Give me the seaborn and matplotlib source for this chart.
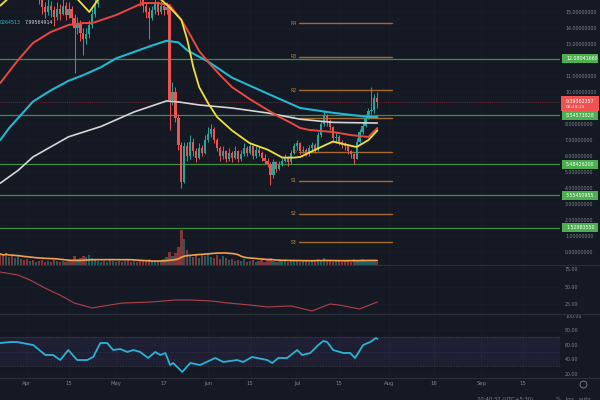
import numpy as np
import pandas as pd
import matplotlib
matplotlib.use('Agg')
import matplotlib.pyplot as plt
import matplotlib.transforms as mtransforms
from matplotlib.lines import Line2D
from matplotlib.patches import Rectangle
import seaborn as sns

# daily candles, day 0 = Mar 23
closes = [17.5, 17.0, 18.0, 17.2, 16.8, 17.5, 18.2, 17.6, 17.0, 16.6,
          16.9, 16.2, 16.5, 15.9, 15.3, 15.0, 15.4, 15.1, 14.7, 15.2,
          14.9, 15.4, 14.8, 15.2, 14.6, 14.0, 14.3, 13.7, 13.3, 13.6,
          14.2, 14.9, 15.5, 16.4, 17.0, 16.5, 17.4, 16.8, 17.6, 18.0,
          17.3, 16.9, 17.5, 16.8, 16.3, 16.7, 16.1, 15.8, 15.4, 15.0,
          14.6, 15.1, 15.5, 15.0, 15.4, 15.1, 15.3, 9.5, 10.0, 8.4,
          6.7, 4.4, 6.6, 6.0, 6.9, 6.3, 5.9, 6.5, 6.2, 7.0,
          7.4, 7.7, 7.0, 6.5, 6.0, 6.3, 5.8, 6.2, 5.9, 6.3,
          5.8, 6.1, 6.5, 6.2, 6.6, 6.0, 6.4, 6.2, 5.9, 5.7,
          5.5, 4.8, 5.6, 5.2, 5.5, 5.7, 5.9, 5.6, 6.2, 6.6,
          6.8, 6.3, 6.4, 6.1, 6.5, 6.7, 6.4, 7.3, 8.0, 8.5,
          8.2, 7.8, 7.1, 7.2, 6.9, 6.7, 6.6, 6.3, 6.1, 5.8,
          6.9, 7.5, 7.9, 8.4, 8.8, 8.9, 9.6, 9.39382357]
highs = [18.3, 18.0, 18.6, 18.3, 17.6, 17.9, 18.8, 18.5, 17.8, 17.3,
         17.4, 17.1, 16.9, 16.7, 16.1, 15.6, 15.8, 15.7, 15.4, 15.6,
         15.5, 15.8, 15.6, 15.6, 15.4, 14.9, 14.7, 14.5, 14.0, 14.0,
         14.5, 15.2, 16.0, 16.8, 17.5, 17.2, 17.8, 17.6, 18.0, 18.5,
         18.2, 17.5, 17.9, 17.6, 16.9, 17.0, 16.9, 16.4, 16.0, 15.6,
         15.3, 15.4, 15.9, 15.7, 15.7, 15.6, 15.6, 15.5, 10.6, 10.3,
         8.6, 6.9, 6.9, 6.9, 7.3, 7.1, 6.5, 6.8, 6.7, 7.3,
         7.8, 8.0, 7.8, 7.1, 6.6, 6.6, 6.4, 6.5, 6.3, 6.6,
         6.4, 6.4, 6.8, 6.6, 6.9, 6.7, 6.6, 6.6, 6.3, 6.1,
         5.9, 5.6, 5.8, 5.7, 5.7, 5.9, 6.1, 6.0, 6.4, 6.8,
         7.0, 6.9, 6.6, 6.5, 6.7, 6.9, 6.8, 7.5, 8.2, 8.8,
         8.6, 8.3, 7.9, 7.5, 7.3, 7.0, 6.9, 6.7, 6.4, 6.2,
         7.1, 7.7, 8.1, 8.6, 9.0, 10.3, 9.9, 10.0]
lows = [16.9, 16.6, 16.8, 16.9, 16.3, 16.6, 17.3, 17.2, 16.6, 16.2,
        16.3, 15.9, 15.9, 15.5, 14.9, 14.6, 14.8, 14.7, 14.1, 14.5,
        14.5, 14.8, 14.5, 14.6, 14.2, 11.2, 13.6, 13.2, 12.3, 13.0,
        13.4, 14.0, 14.7, 15.3, 16.1, 16.2, 16.3, 16.5, 16.7, 17.4,
        17.0, 16.5, 16.8, 16.5, 15.9, 16.0, 15.8, 15.4, 15.0, 14.6,
        13.3, 14.5, 14.9, 14.8, 14.9, 14.8, 14.9, 7.6, 9.2, 8.1,
        6.4, 4.0, 4.3, 5.7, 5.8, 6.0, 5.6, 5.8, 6.0, 6.1,
        6.9, 7.2, 6.8, 6.3, 5.7, 5.8, 5.6, 5.7, 5.6, 5.8,
        5.6, 5.7, 6.0, 6.0, 6.1, 5.8, 5.9, 6.0, 5.7, 5.5,
        5.3, 4.2, 4.6, 5.0, 5.1, 5.4, 5.6, 5.4, 5.5, 6.1,
        6.4, 6.1, 6.2, 6.0, 6.0, 6.4, 6.2, 6.3, 7.2, 7.9,
        7.9, 7.6, 6.9, 6.8, 6.7, 6.5, 6.4, 6.1, 5.9, 5.5,
        5.8, 6.8, 7.4, 7.8, 8.3, 8.6, 8.7, 9.0]
first_open = 17.8
volumes = [11, 9, 12, 8, 10, 7, 9, 6, 5, 6,
           4, 5, 3, 4, 5, 3, 4, 3, 5, 4,
           3, 4, 3, 5, 4, 9, 6, 7, 9, 8,
           10, 7, 5, 4, 3, 4, 3, 5, 4, 3,
           4, 3, 4, 5, 3, 4, 3, 4, 5, 4,
           6, 4, 3, 4, 5, 6, 8, 13, 9, 12,
           18, 35, 26, 15, 9, 8, 11, 7, 10, 9,
           12, 8, 7, 10, 6, 9, 7, 5, 6, 4,
           5, 4, 6, 3, 4, 5, 3, 4, 5, 3,
           6, 7, 4, 3, 5, 4, 6, 3, 4, 5,
           4, 3, 5, 4, 3, 4, 5, 6, 4, 7,
           5, 4, 3, 5, 4, 3, 4, 5, 3, 6,
           5, 4, 6, 5, 4, 5, 4, 3]

# moving averages
red_days = [0, 6, 11, 17, 23, 28, 31, 39, 48, 53, 57, 61, 63, 67, 70, 74, 78, 84, 90, 94, 98, 101, 104, 112, 118, 124, 127]
red_vals = [10.56, 12.0, 13.06, 13.75, 14.19, 14.31, 14.31, 14.81, 15.56, 15.56, 15.44, 14.5, 13.88, 12.56,
            11.88, 11.06, 10.31, 9.56, 8.88, 8.44, 8.06, 7.75, 7.63, 7.5, 7.31, 7.19, 7.75]
cyan_days = [0, 3, 11, 17, 23, 28, 34, 39, 45, 51, 56, 60, 63, 67, 70, 78, 90, 101, 112, 124, 127]
cyan_vals = [7.0, 7.75, 9.4, 10.1, 10.7, 11.06, 11.56, 12.1, 12.5, 12.9, 13.2, 13.1, 12.6, 12.2,
             11.9, 10.9, 9.9, 9.0, 8.7, 8.44, 8.44]
white_days = [0, 6, 11, 23, 34, 45, 56, 60, 67, 78, 90, 101, 112, 127]
white_vals = [4.3, 5.1, 5.94, 7.2, 7.85, 8.75, 9.44, 9.38, 9.19, 9.0, 8.69, 8.3, 8.1, 8.06]
yellow_days = [0, 3, 8, 15, 22, 26, 30, 33, 36, 42, 48, 54, 57, 61, 63, 65, 67, 70, 73, 78,
               84, 90, 95, 99, 101, 108, 112, 120, 124, 127]
yellow_vals = [15.4, 15.9, 16.4, 16.5, 16.0, 15.8, 15.0, 15.8, 16.2, 16.6, 16.3, 15.8, 15.3, 14.5,
               13.25, 11.56, 10.3, 9.3, 8.44, 7.6, 6.8, 6.4, 5.9, 5.9, 5.94, 6.56, 6.9, 6.56, 7.0, 7.6]

# horizontal levels and monthly pivots
green_levels = [12.08041660, 8.54573828, 5.48426200, 3.55450955, 1.52983550]
pivot_names = ['R4', 'R3', 'R2', 'R1', 'P', 'S1', 'S2', 'S3']
pivot_vals = [14.3, 12.2, 10.1, 8.4, 6.25, 4.45, 2.4, 0.6]
last_price = 9.39382357
countdown = '08:49:23'
price_ticks = [0, 1, 2, 3, 4, 5, 6, 7, 8, 10, 11, 13, 14, 15]

# lower panes
adx_days = [0, 6, 10, 15, 20, 25, 31, 35, 41, 51, 59, 64, 71, 77, 84, 90, 98, 105, 111, 114, 121, 127]
adx_vals = [71.4, 67, 60, 48.6, 38.6, 27, 20, 22.9, 27, 28.6, 31.4, 31.4, 30, 27, 24.3, 21.4, 22.9,
            15.7, 25.7, 24.3, 18.6, 28.6]
rsi_days = [0, 3.4, 5.7, 11.1, 15.2, 17.8, 20.2, 22.9, 25.9, 29.3, 31.3, 33.7, 36.0, 38.0, 40.4,
            42.8, 44.8, 47.1, 49.8, 52.2, 53.9, 55.6, 57.2, 58.2, 61.3, 64.0, 67.3, 72.4, 75.1,
            79.8, 81.8, 84.8, 89.9, 91.6, 93.6, 96.6, 100.0, 101.7, 104.4, 107.1, 108.8, 110.1,
            112.1, 115.5, 117.8, 119.5, 122.2, 124.6, 126.5, 127]
rsi_vals = [62.1, 63.4, 63.4, 59.3, 45.5, 45.5, 38.6, 52.4, 38.6, 38.6, 42.8, 62.1, 62.1, 52.4, 53.8,
            49.7, 52.4, 49.7, 41.4, 49.7, 45.5, 48.3, 31.7, 34.5, 22.1, 34.5, 31.7, 41.4, 35.9,
            38.6, 35.9, 42.8, 38.6, 34.5, 41.4, 41.4, 52.4, 45.5, 48.3, 59.3, 64.8, 63.4,
            52.4, 48.3, 48.3, 41.4, 59.3, 63.4, 69.0, 67.6]

tick_days = [9, 23, 39, 55, 70, 84, 100, 114, 131, 146, 162, 176]
tick_labels = ['Apr', '15', 'May', '17', 'Jun', '15', 'Jul', '15', 'Aug', '16', 'Sep', '15']

BG = '#151924'
GRID = '#1b1f2a'
TXT = '#80848f'
UP = '#26a69a'
DOWN = '#ef5350'

sns.set_theme(style='dark', rc={'axes.facecolor': BG, 'figure.facecolor': BG,
                                'savefig.facecolor': BG})
plt.rcParams['font.family'] = ['DejaVu Sans']

fig = plt.figure(figsize=(6, 4), dpi=100)
W = 560 / 600
ax = fig.add_axes([0, 0.3375, W, 0.6625])
ax_vol = fig.add_axes([0, 0.3375, W, 0.1], sharex=ax)
ax_adx = fig.add_axes([0, 0.215, W, 0.1225], sharex=ax)
ax_rsi = fig.add_axes([0, 0.055, W, 0.16], sharex=ax)

for a in (ax, ax_vol, ax_adx, ax_rsi):
    for s in a.spines.values():
        s.set_visible(False)
ax_vol.patch.set_alpha(0)

days = np.arange(len(closes))
c = np.array(closes)
o = np.concatenate([[first_open], c[:-1]])
h = np.array(highs)
l = np.array(lows)
cols = [UP if cc >= oo else DOWN for cc, oo in zip(c, o)]

# candles
ax.vlines(days, l, h, colors=cols, linewidths=0.7, zorder=3)
ax.bar(days, np.maximum(np.abs(c - o), 0.05), bottom=np.minimum(o, c), width=0.72,
       color=cols, edgecolor=cols, linewidth=0, zorder=3)

for dd, vv, col, lw in [(white_days, white_vals, '#d6d6d6', 1.2),
                        (cyan_days, cyan_vals, '#22b8cf', 1.5),
                        (red_days, red_vals, '#e9483f', 1.4),
                        (yellow_days, yellow_vals, '#f2e03a', 1.3)]:
    sns.lineplot(x=dd, y=vv, ax=ax, color=col, linewidth=lw, estimator=None, sort=False, zorder=4)

for lvl in green_levels:
    ax.axhline(lvl, color='#3d8f41', lw=0.9, zorder=2)
ax.axhline(last_price, color='#7a2f36', lw=0.6, ls=(0, (1, 1.5)), zorder=2)
for name, val in zip(pivot_names, pivot_vals):
    ax.plot([100.5, 131.8], [val, val], color='#a86a2c', lw=1.0, zorder=2)
    ax.text(99.8, val, name, ha='right', va='center', fontsize=3.3, color='#c4873a')

ax.set_xlim(-0.09, 188.5)
ax.set_ylim(-0.8125, 15.75)
ax.yaxis.tick_right()
ax.set_yticks(price_ticks)
ax.set_yticklabels([f'{v:.8f}' for v in price_ticks])
ax.tick_params(axis='y', length=0, pad=3.6, labelsize=3.4, colors=TXT)
ax.tick_params(axis='x', length=0, labelbottom=False)
ax.set_xticks(tick_days)
ax.grid(True, color=GRID, lw=0.5)
ax.set_xlabel('')
ax.set_ylabel('')

# price scale labels
trans = mtransforms.blended_transform_factory(ax.transAxes, ax.transData)
for lvl in green_levels:
    ax.add_patch(Rectangle((562 / 560, lvl - 0.28), 36 / 560, 0.56, transform=trans,
                           facecolor='#4caf50', edgecolor='none', clip_on=False, zorder=10))
    ax.text(566 / 560, lvl, f'{lvl:.8f}', transform=trans, fontsize=3.4, color='white',
            va='center', ha='left', clip_on=False, zorder=11)
ax.add_patch(Rectangle((561 / 560, 8.84), 38 / 560, 0.88, transform=trans,
                       facecolor='#ef5350', edgecolor='none', clip_on=False, zorder=12))
ax.text(566 / 560, last_price, f'{last_price:.8f}', transform=trans, fontsize=3.4,
        color='white', va='center', ha='left', clip_on=False, zorder=13)
ax.text(566 / 560, 9.05, countdown, transform=trans, fontsize=3.2,
        color='#ffe0e0', va='center', ha='left', clip_on=False, zorder=13)

# volume
vols = np.array(volumes)
ax_vol.bar(days, vols, width=0.75, color=cols, linewidth=0, alpha=0.5)
vol_ma = pd.Series(vols).rolling(20, min_periods=1).mean()
sns.lineplot(x=days, y=vol_ma.values, ax=ax_vol, color='#f5a04a', linewidth=1.2,
             estimator=None, sort=False)
ax_vol.set_ylim(0, 40)
ax_vol.set_yticks([])
ax_vol.tick_params(axis='x', length=0, labelbottom=False)
ax_vol.set_xlabel('')
ax_vol.set_ylabel('')

# adx-like pane
sns.lineplot(x=adx_days, y=adx_vals, ax=ax_adx, color='#b0434a', linewidth=0.8,
             estimator=None, sort=False)
ax_adx.set_ylim(11.4, 81.4)
ax_adx.yaxis.tick_right()
ax_adx.set_yticks([25, 50, 75])
ax_adx.set_yticklabels(['25.00', '50.00', '75.00'])
ax_adx.tick_params(axis='y', length=0, pad=3.6, labelsize=3.4, colors=TXT)
ax_adx.tick_params(axis='x', length=0, labelbottom=False)
ax_adx.grid(True, color=GRID, lw=0.5)
ax_adx.set_xlabel('')
ax_adx.set_ylabel('')

# rsi pane
ax_rsi.axhspan(30, 70, color='#7e57c2', alpha=0.1, lw=0)
for lv, al in [(70, 0.45), (50, 0.25), (30, 0.45)]:
    ax_rsi.axhline(lv, color='#787b86', lw=0.5, ls=(0, (2, 2)), alpha=al)
sns.lineplot(x=rsi_days, y=rsi_vals, ax=ax_rsi, color='#2bb3d6', linewidth=1.3,
             estimator=None, sort=False)
ax_rsi.set_ylim(13.8, 102.1)
ax_rsi.yaxis.tick_right()
ax_rsi.set_yticks([20, 40, 60, 80, 100])
ax_rsi.set_yticklabels(['20.00', '40.00', '60.00', '80.00', '100.00'])
ax_rsi.tick_params(axis='y', length=0, pad=3.6, labelsize=3.4, colors=TXT)
ax_rsi.set_xticks(tick_days)
ax_rsi.set_xticklabels(tick_labels)
ax_rsi.tick_params(axis='x', length=0, pad=2.5, labelsize=3.8, colors=TXT)
ax_rsi.grid(True, color=GRID, lw=0.5)
ax_rsi.set_xlabel('')
ax_rsi.set_ylabel('')
ax_rsi.set_xlim(-0.09, 188.5)

# pane separators and chrome
for yy in [0.3375, 0.215, 0.055]:
    fig.add_artist(Line2D([0, 1], [yy, yy], transform=fig.transFigure, color='#2a2e39', lw=0.8))
fig.text(0.0, 1 - 23 / 400, '0264513', color='#22b8cf', fontsize=3.4, va='center')
fig.text(25 / 600, 1 - 23 / 400, '7.99564914', color='#d1d4dc', fontsize=3.4, va='center')
fig.text(477 / 600, 1 - 399 / 400, '20:40:37 (UTC+5:30)', color=TXT, fontsize=3.8, va='center')
fig.text(556 / 600, 1 - 399 / 400, '%   log   auto', color=TXT, fontsize=3.8, va='center')
fig.add_artist(Line2D([583 / 600], [1 - 384 / 400], transform=fig.transFigure, marker='o',
                      markersize=5, mfc='none', mec=TXT, mew=0.6))

fig.savefig('out.png', dpi=100)
